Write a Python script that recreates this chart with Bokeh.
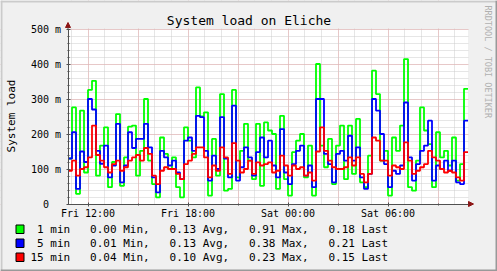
import math
from bokeh.plotting import figure
from bokeh.models import FixedTicker, Label, Arrow, NormalHead, LinearAxis, Grid
from bokeh.embed import file_html
from bokeh.resources import INLINE

# ---- data (system load in thousandths, 100 samples of 14.4 min, Fri 10:48 -> Sat 10:48)
load_1min = [130, 276, 29, 267, 90, 326, 352, 81, 167, 219, 48, 120, 257, 52, 133, 221, 224,
             81, 152, 300, 124, 57, 19, 190, 143, 100, 133, 48, 19, 219, 181, 133, 333, 250,
             262, 24, 186, 81, 314, 38, 43, 326, 76, 152, 229, 124, 71, 229, 52, 233,
             210, 200, 43, 252, 71, 24, 148, 181, 200, 76, 167, 24, 400, 167, 105, 186, 57,
             167, 224, 71, 224, 86, 243, 62, 48, 138, 381, 314, 124, 152, 24, 190, 152, 224,
             414, 48, 38, 124, 276, 210, 171, 48, 205, 133, 152, 110, 190, 67, 114, 329]
load_5min = [130, 205, 43, 150, 120, 300, 270, 152, 115, 167, 76, 110, 229, 62, 110, 205, 160,
             186, 186, 229, 162, 76, 33, 152, 133, 110, 124, 90, 71, 181, 190, 152, 252, 248,
             152, 67, 138, 100, 248, 130, 76, 281, 67, 105, 162, 133, 81, 148, 190, 133,
             181, 110, 76, 214, 90, 57, 114, 152, 167, 81, 110, 48, 300, 300, 143, 114, 62,
             143, 152, 124, 195, 124, 162, 76, 43, 86, 300, 267, 200, 114, 48, 95, 86, 110,
             290, 133, 67, 114, 152, 167, 238, 67, 110, 100, 124, 95, 124, 62, 57, 238]
load_15min = [95, 124, 81, 100, 105, 133, 224, 140, 124, 105, 90, 114, 124, 95, 105, 124, 133,
              140, 124, 160, 143, 81, 57, 95, 105, 100, 100, 86, 71, 114, 124, 143, 162, 162,
              133, 76, 110, 95, 162, 133, 86, 174, 124, 90, 100, 124, 86, 119, 110, 114,
              119, 90, 95, 138, 110, 81, 110, 100, 105, 81, 90, 67, 150, 219, 152, 124, 105,
              100, 100, 105, 133, 110, 133, 86, 62, 86, 190, 181, 124, 124, 81, 110, 105, 100,
              176, 124, 86, 95, 105, 114, 152, 133, 124, 100, 90, 95, 90, 76, 67, 148]

series_names = ["1 min", "5 min", "15 min"]
series_min = ["0.00", "0.01", "0.04"]
series_avg = ["0.13", "0.13", "0.10"]
series_max = ["0.91", "0.38", "0.23"]
series_last = ["0.18", "0.21", "0.15"]

x_tick_hours = [12, 18, 24, 30]
x_tick_labels = ["Fri 12:00", "Fri 18:00", "Sat 00:00", "Sat 06:00"]
y_ticks = [0, 100, 200, 300, 400, 500]
y_tick_labels = ["0", "100 m", "200 m", "300 m", "400 m", "500 m"]

# ---- layout / style
START_H, STEP_H = 10.8, 0.24
X0, X1 = START_H, START_H + STEP_H * len(load_1min)
Y0, Y1 = 0, 500
W, H = 497, 271
FL, FT, FW, FH = 67.5, 28.5, 400, 175
FONT = "DejaVu Sans Mono"
BG = "#F0F0F0"
AXIS = "#505050"
ARROW = "#8C1414"
COLORS = ["#00FF00", "#0000FF", "#FF0000"]
CW = 6.62  # legend character width
TW = 6.02  # tick label character width


def dx(px):
    return X0 + (px - FL) * (X1 - X0) / FW


def dy(py):
    return Y0 + (FT + FH - py) * (Y1 - Y0) / FH


times = [START_H + STEP_H * i for i in range(len(load_1min) + 1)]

p = figure(width=W, height=H, x_range=(dx(0), dx(W)), y_range=(dy(H), dy(0)),
           output_backend="svg", toolbar_location=None,
           x_axis_location=None, y_axis_location=None, min_border=0)
p.border_fill_color = BG
p.background_fill_color = BG
p.outline_line_color = None
p.grid.visible = False

# plot area
p.quad(left=X0, right=X1, bottom=Y0, top=Y1, fill_color="#FFFFFF", line_color=None, level="image")

# grids
major_x = list(range(12, 34, 3))
minor_x = list(range(11, 35))
minor_y = list(range(0, 501, 20))
xg = Grid(dimension=0, ticker=FixedTicker(ticks=major_x, minor_ticks=minor_x))
yg = Grid(dimension=1, ticker=FixedTicker(ticks=y_ticks, minor_ticks=minor_y))
for g in (xg, yg):
    g.grid_line_color = "#E9AAAA"
    g.grid_line_dash = "1 1"
    g.grid_line_width = 1
    g.minor_grid_line_color = "#CCCCCC"
    g.minor_grid_line_dash = "1 1"
    g.minor_grid_line_width = 1
    p.add_layout(g)

# mask the grid outside the plot area
mask = dict(fill_color=BG, line_color=None)
p.quad(left=dx(0), right=dx(FL - 0.5), bottom=dy(H), top=dy(0), **mask)
p.quad(left=dx(FL + FW + 0.5), right=dx(W), bottom=dy(H), top=dy(0), **mask)
p.quad(left=dx(0), right=dx(W), bottom=dy(FT - 0.5), top=dy(0), **mask)
p.quad(left=dx(0), right=dx(W), bottom=dy(H), top=dy(FT + FH + 0.5), **mask)

# canvas shading
p.quad(left=dx(0), right=dx(W), bottom=dy(2), top=dy(0), fill_color="#CBCBCB", line_color=None)
p.quad(left=dx(0), right=dx(2), bottom=dy(H), top=dy(0), fill_color="#CBCBCB", line_color=None)
p.quad(left=dx(0), right=dx(W), bottom=dy(H), top=dy(H - 2), fill_color="#999999", line_color=None)
p.quad(left=dx(W - 2), right=dx(W), bottom=dy(H), top=dy(0), fill_color="#999999", line_color=None)

# axes
xaxis = LinearAxis(fixed_location=Y0, bounds=(X0, X1),
                   ticker=FixedTicker(ticks=x_tick_hours, minor_ticks=major_x))
xaxis.major_label_overrides = dict(zip(x_tick_hours, x_tick_labels))
yaxis = LinearAxis(fixed_location=X0, bounds=(Y0, Y1),
                   ticker=FixedTicker(ticks=y_ticks, minor_ticks=minor_y))
# the zero label is aligned with the digit column (drawn below as a label)
yaxis.major_label_overrides = {t: (lbl if t != 0 else "") for t, lbl in zip(y_ticks, y_tick_labels)}
for ax in (xaxis, yaxis):
    ax.axis_line_color = AXIS
    ax.major_tick_line_color = AXIS
    ax.major_tick_in = 2
    ax.major_tick_out = 2
    ax.minor_tick_line_color = AXIS
    ax.minor_tick_in = 1
    ax.minor_tick_out = 1
    ax.major_label_text_font = FONT
    ax.major_label_text_font_size = "10px"
    ax.major_label_text_color = "#000000"
xaxis.major_label_standoff = 2
yaxis.major_label_standoff = 5
p.add_layout(xaxis, "below")
p.add_layout(yaxis, "left")
p.add_layout(Label(x=dx(FL - 7 - 2 * TW), y=y_ticks[0], text=y_tick_labels[0], text_align="right",
                   text_baseline="middle", text_font=FONT, text_font_size="10px",
                   text_color="#000000"))

# data lines
for vals, col in zip([load_1min, load_5min, load_15min], COLORS):
    p.step(times, vals + [vals[-1]], mode="after", line_color=col, line_width=1.8)

# axis arrows
p.add_layout(Arrow(end=NormalHead(size=5, fill_color=ARROW, line_color=ARROW, line_width=1),
                   x_start=X1, y_start=Y0, x_end=dx(473), y_end=Y0,
                   line_color=AXIS, line_width=1))
p.add_layout(Arrow(end=NormalHead(size=5, fill_color=ARROW, line_color=ARROW, line_width=1),
                   x_start=X0, y_start=Y1, x_end=X0, y_end=dy(22),
                   line_color=AXIS, line_width=1))

# texts
p.add_layout(Label(x=dx(248.5), y=dy(20), text="System load on Eliche", text_align="center",
                   text_baseline="middle", text_font=FONT, text_font_size="13px",
                   text_color="#000000"))
p.add_layout(Label(x=dx(11), y=dy(115.5), text="System load", angle=math.pi / 2,
                   text_align="center", text_baseline="middle", text_font=FONT,
                   text_font_size="11px", text_color="#000000"))
p.add_layout(Label(x=dx(487.5), y=dy(5), text="RRDTOOL / TOBI OETIKER", angle=-math.pi / 2,
                   text_align="left", text_baseline="middle", text_font=FONT,
                   text_font_size="8.5px", text_color="#B0B0B0"))

# legend
lab = dict(text_baseline="middle", text_font=FONT, text_font_size="11px", text_color="#000000")
for k in range(3):
    cy = 229 + 14 * k
    p.quad(left=dx(15.5), right=dx(23.5), top=dy(cy - 4.5), bottom=dy(cy + 4),
           fill_color=COLORS[k], line_color="#000000", line_width=1)
    p.add_layout(Label(x=dx(30 + 6 * CW), y=dy(cy), text=series_names[k], text_align="right", **lab))
    cols = [series_min[k] + " Min,", series_avg[k] + " Avg,", series_max[k] + " Max,",
            series_last[k] + " Last"]
    for j, t in enumerate(cols):
        p.add_layout(Label(x=dx(30 + (9 + 12 * j) * CW), y=dy(cy), text=t, text_align="left", **lab))

open("out.html", "w").write(file_html(p, INLINE))
